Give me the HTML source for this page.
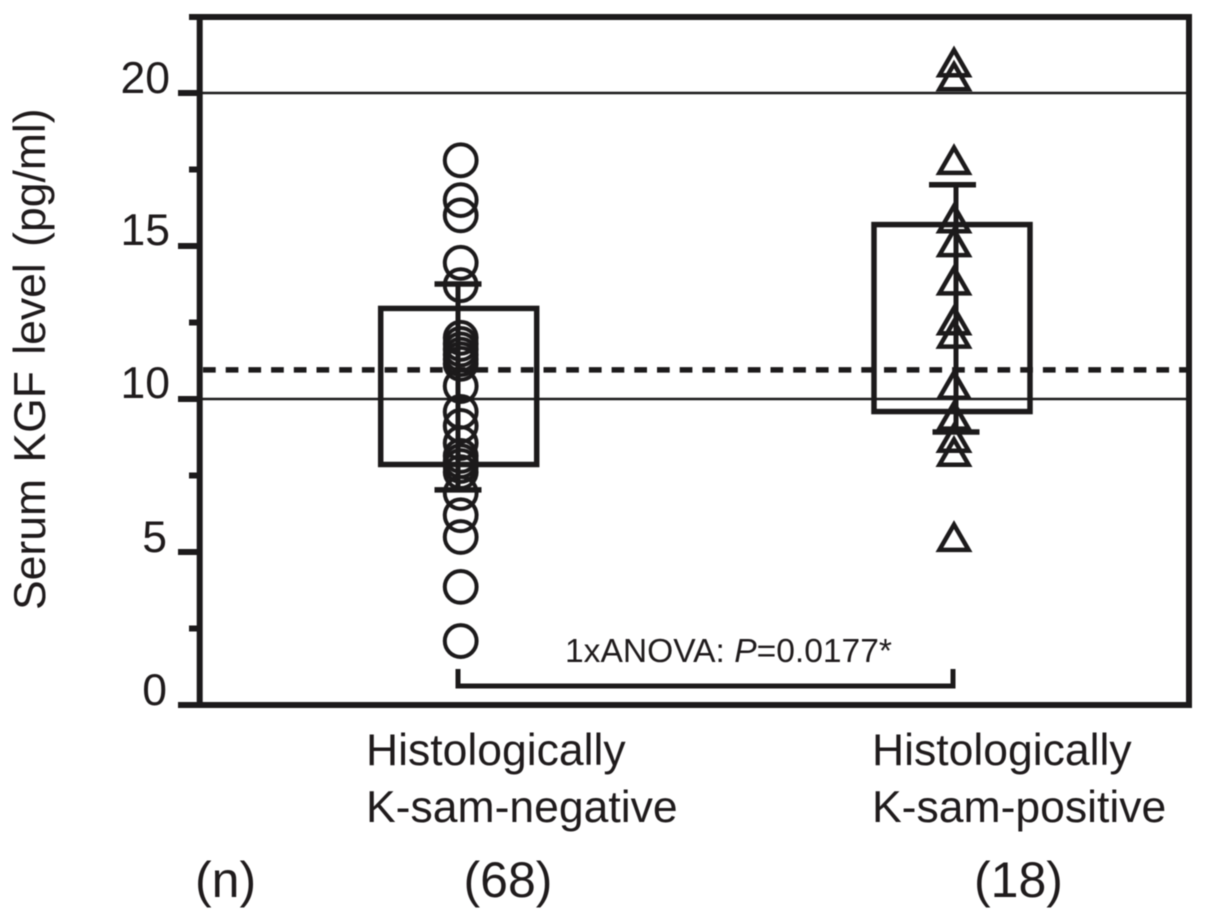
<!DOCTYPE html>
<html>
<head>
<meta charset="utf-8">
<title>Serum KGF level</title>
<style>
html,body{margin:0;padding:0;background:#fff;width:1205px;height:920px;overflow:hidden}
svg{display:block}
text{font-family:"Liberation Sans",Arial,sans-serif;fill:#1f1b1c}
</style>
</head>
<body>
<svg id="chart" width="1205" height="920" viewBox="0 0 1205 920" xmlns="http://www.w3.org/2000/svg">
  <g id="root" style="filter:blur(0.45px)"></g>
</svg>
<script>
const yTickValues = [0, 5, 10, 15, 20];
const yTickLabels = ["0", "5", "10", "15", "20"];
const yMinorTicks = [2.5, 7.5, 12.5, 17.5];
const gridValues = [10, 20];
const cutoffValue = 10.95;
const categoryLineOne = ["Histologically", "Histologically"];
const categoryLineTwo = ["K-sam-negative", "K-sam-positive"];
const sampleCounts = ["(68)", "(18)"];
const negativeValues = [17.8, 16.5, 16.0, 14.45, 13.72, 12.0, 11.8, 11.62, 11.45, 11.3, 11.15, 10.42, 9.58, 9.12, 8.56, 8.14, 7.97, 7.81, 7.61, 6.93, 6.2, 5.49, 3.86, 2.09];
const positiveValues = [21.03, 20.57, 17.84, 15.93, 15.15, 13.9, 12.6, 12.16, 10.49, 9.48, 8.76, 8.3, 5.52];
const boxTops = [12.96, 15.7];
const boxBottoms = [7.86, 9.59];
const whiskerTops = [13.76, 17.0];
const whiskerBottoms = [7.03, 8.92];

const NS = "http://www.w3.org/2000/svg";
const root = document.getElementById("root");
const INK = "#1c1a1b";

function yScale(v) { return 705 - v * 30.6; }
function xScale(i) { return 460.7 + i * 493.3; }

function make(tag, attrs, text) {
  const el = document.createElementNS(NS, tag);
  for (const k in attrs) el.setAttribute(k, attrs[k]);
  if (text !== undefined) el.textContent = text;
  root.appendChild(el);
  return el;
}
function line(x1, y1, x2, y2, w) {
  return make("line", { x1: x1, y1: y1, x2: x2, y2: y2, stroke: INK, "stroke-width": w });
}

/* horizontal reference lines */
gridValues.forEach(function (v) {
  const el = line(200, yScale(v), 1189, yScale(v), 2.5);
  
  
});
const cutoff = line(203, yScale(cutoffValue), 1187, yScale(cutoffValue), 5.5);
cutoff.setAttribute('stroke-dasharray', '12.7 10');



/* frame */
const frame = make("path", {
  d: "M189 17H1189V705H178M199.7 17V705",
  fill: "none", stroke: INK, "stroke-width": 6
});



/* ticks */
yTickValues.forEach(function (v, i) {
  if (v !== 0) {
    const t = line(178, yScale(v), 199, yScale(v), 6);
    
    
  }
  const label = yTickLabels[i];
  const txt = make("text", {
    x: label.length > 1 ? 170 : 167,
    y: yScale(v) + (v === 10 || v === 15 ? -1 : 0),
    "text-anchor": "end", "font-size": 44.5
  }, label);
  
  
});
yMinorTicks.forEach(function (v) {
  const t = line(189, yScale(v), 199, yScale(v), 6);
  
  
});

/* y axis title */
const yTitle = make("text", {
  transform: "translate(45,610) rotate(-90)",
  "font-size": 44.5, "word-spacing": 4
}, "Serum KGF level (pg/ml)");



/* boxes and whiskers */
boxTops.forEach(function (top, i) {
  const cx = xScale(i) - 2;
  const stemX = xScale(i) + (i === 0 ? -2.7 : 2);
  const box = make("rect", {
    x: cx - 78, y: yScale(top), width: 156,
    height: yScale(boxBottoms[i]) - yScale(top),
    fill: "none", stroke: INK, "stroke-width": 5.5
  });
  
  

  const stem = line(stemX, yScale(whiskerTops[i]), stemX, yScale(whiskerBottoms[i]), 5);
  
  

  const capTopX = i === 0 ? stemX : stemX - 3.5;
  const capTop = line(capTopX - 23.5, yScale(whiskerTops[i]), capTopX + 23.5, yScale(whiskerTops[i]), 5.5);
  
  

  const capBottom = line(stemX - 23.5, yScale(whiskerBottoms[i]), stemX + 23.5, yScale(whiskerBottoms[i]), 5.5);
  
  
});

/* points */
negativeValues.forEach(function (v) {
  const c = make("circle", {
    cx: xScale(0), cy: yScale(v), r: 15.9,
    fill: "none", stroke: INK, "stroke-width": 4
  });
  
  
});
positiveValues.forEach(function (v) {
  const x = xScale(1), y = yScale(v);
  const p = make("polygon", {
    points: x + "," + (y - 11.5) + " " + (x + 14.6) + "," + (y + 13.75) + " " + (x - 14.6) + "," + (y + 13.75),
    fill: "none", stroke: INK, "stroke-width": 4.5
  });
  
  
});

/* significance bracket */
const bracket = make("path", {
  d: "M458 669V686H953V669",
  fill: "none", stroke: INK, "stroke-width": 5
});



const anova = make("text", { x: 565, y: 662, "font-size": 33.6 });


anova.appendChild(document.createTextNode("1xANOVA: "));
const pItalic = document.createElementNS(NS, "tspan");
pItalic.setAttribute("font-style", "italic");
pItalic.textContent = "P";
anova.appendChild(pItalic);
anova.appendChild(document.createTextNode("=0.0177*"));

/* category labels */
const labelLeft = [366, 872];
const countCenters = [508, 1018.5];
categoryLineOne.forEach(function (label, i) {
  const a = make("text", { x: labelLeft[i], y: 765, "font-size": 44.5 }, label);
  
  
  const b = make("text", { x: labelLeft[i], y: 822, "font-size": 44.5 }, categoryLineTwo[i]);
  
  
  const n = make("text", { x: countCenters[i], y: 897, "font-size": 50, "text-anchor": "middle" }, sampleCounts[i]);
  
  
});
const nLabel = make("text", { x: 195, y: 897, "font-size": 50 }, "(n)");


</script>
</body>
</html>
